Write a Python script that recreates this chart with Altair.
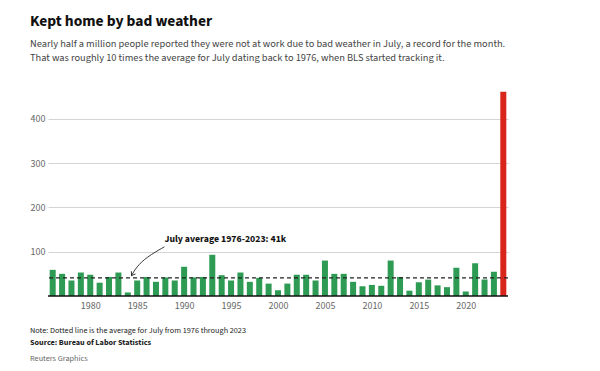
import altair as alt
import pandas as pd

years = list(range(1976, 2025))
values = [59, 50, 35, 53, 48, 30, 43, 53, 8, 35, 43, 32, 42, 35, 66, 42,
          43, 93, 47, 35, 53, 32, 41, 28, 13, 28, 48, 48, 35, 80, 50, 50,
          32, 22, 25, 23, 80, 43, 12, 31, 37, 24, 20, 64, 10, 74, 37, 55,
          461]
average = 41
tick_years = [1980, 1985, 1990, 1995, 2000, 2005, 2010, 2015, 2020]

arrow_x = [1987.9, 1986.0, 1984.9, 1984.4]
arrow_y = [111, 88, 65, 46]

FONT = "'Source Sans Pro', 'Source Sans 3', 'Noto Sans Condensed', 'Roboto Condensed', Lato"
W, H = 460, 206

df = pd.DataFrame({"year": years, "value": values})
df["kind"] = ["record" if y == 2024 else "normal" for y in years]

xs = alt.Scale(domain=[1975.5, 2024.5], nice=False, zero=False)
ys = alt.Scale(domain=[0, 465], nice=False)


def X(f):
    return alt.X(f, scale=xs, title=None)


def Y(f):
    return alt.Y(f, scale=ys, title=None)


bars = alt.Chart(df).transform_calculate(
    x0="datum.year - 0.32", x1="datum.year + 0.32"
).mark_rect().encode(
    x=alt.X("x0:Q", scale=xs, axis=alt.Axis(values=tick_years, format="d", title=None,
            ticks=False, grid=False, domain=False, labelColor="#666",
            labelFontSize=10, labelPadding=4, labelFont=FONT)),
    x2="x1:Q",
    y=alt.Y("value:Q", scale=ys, axis=alt.Axis(values=[100, 200, 300, 400], title=None,
            ticks=False, domain=False, grid=True, gridColor="#d4d4d4",
            labelColor="#666", labelFontSize=10, labelPadding=3, labelFont=FONT)),
    color=alt.Color("kind:N", scale=alt.Scale(domain=["normal", "record"],
                    range=["#2e9b54", "#d9261c"]), legend=None),
)

baseline = alt.Chart(pd.DataFrame({"v": [0]})).mark_rule(color="#111", strokeWidth=1.5).encode(
    y=Y("v:Q"))

avg_rule = alt.Chart(pd.DataFrame({"v": [average]})).mark_rule(
    color="#222", strokeDash=[4, 3], strokeWidth=1.3).encode(y=Y("v:Q"))

arrow_df = pd.DataFrame({"x": arrow_x, "y": arrow_y, "o": list(range(len(arrow_x)))})
arrow = alt.Chart(arrow_df).mark_line(color="#222", strokeWidth=0.9, interpolate="basis").encode(
    x=X("x:Q"), y=Y("y:Q"), order="o:Q")
head = alt.Chart(arrow_df.tail(1)).mark_point(
    shape="M-0.7,-1L0,0L0.7,-1", filled=False, color="#222", strokeWidth=0.9,
    size=50, angle=32, opacity=1).encode(x=X("x:Q"), y=Y("y:Q"))

label = alt.Chart(pd.DataFrame({"x": [arrow_x[0]], "y": [129],
                                "t": ["July average 1976-2023: 41k"]})).mark_text(
    align="left", baseline="middle", font=FONT, fontSize=9.8, fontWeight="bold", color="#111"
).encode(x=X("x:Q"), y=Y("y:Q"), text="t:N")

note = alt.Chart(pd.DataFrame({"t": ["Note: Dotted line is the average for July from 1976 through 2023"]})).mark_text(
    align="left", baseline="middle", font=FONT, fontSize=8.2, color="#222").encode(
    x=alt.value(-18), y=alt.value(H + 35), text="t:N")
src = alt.Chart(pd.DataFrame({"t": ["Source: Bureau of Labor Statistics"]})).mark_text(
    align="left", baseline="middle", font=FONT, fontSize=8.2, fontWeight="bold", color="#222").encode(
    x=alt.value(-18), y=alt.value(H + 46.5), text="t:N")
credit = alt.Chart(pd.DataFrame({"t": ["Reuters Graphics"]})).mark_text(
    align="left", baseline="middle", font=FONT, fontSize=8.2, color="#666").encode(
    x=alt.value(-18), y=alt.value(H + 62.5), text="t:N")

chart = alt.layer(bars, avg_rule, baseline, arrow, head, label, note, src, credit).properties(
    width=W, height=H, background="white",
    padding={"left": 22, "top": 6, "right": 10, "bottom": 2},
    title=alt.Title(
        "Kept home by bad weather",
        subtitle=["Nearly half a million people reported they were not at work due to bad weather in July, a record for the month.",
                  "That was roughly 10 times the average for July dating back to 1976, when BLS started tracking it."],
        anchor="start", frame="bounds", font=FONT, fontSize=15.5, fontWeight="bold", color="#111",
        subtitleFont=FONT, subtitleFontSize=10.4, subtitleColor="#444", subtitleLineHeight=14.5,
        subtitlePadding=9, offset=26.5),
).configure_view(strokeWidth=0).configure_axis(domain=False, ticks=False).configure_axisX(
    grid=False)

chart.save("out.html", embed_options={"renderer": "svg", "actions": False})
